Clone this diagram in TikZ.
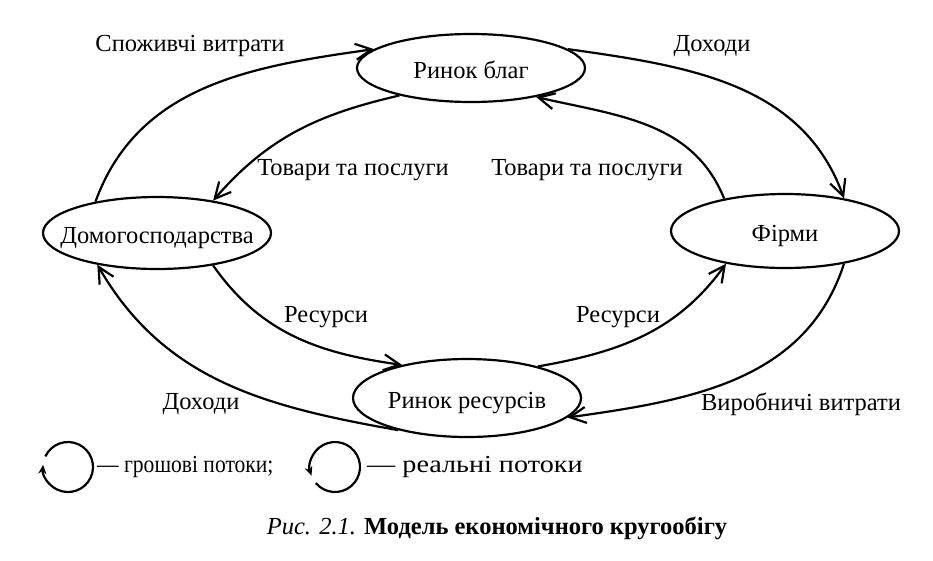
\documentclass[tikz,border=0pt]{standalone}
\usepackage{fontspec}
\setmainfont{Liberation Serif}
\usetikzlibrary{shapes.geometric,arrows.meta,positioning}

\begin{document}
\begin{tikzpicture}[x=1pt, y=1pt,
    market/.style={ellipse, draw, line width=2.2pt, minimum width=228pt, minimum height=72pt, inner sep=0pt, text height=20pt, text depth=0pt, font=\fontsize{24.5}{28}\selectfont},
    flow/.style={line width=2.2pt, -{Straight Barb[length=16pt, width=16pt]}},
    tag/.style={font=\fontsize{24.5}{28}\selectfont, inner sep=0pt}
]
\useasboundingbox (0,0) rectangle (933,-560);

% Markets and agents
\node[market, minimum height=68pt] (blag) at (471,-68) {\makebox[0pt]{Ринок благ}};
\node[market] (dom) at (157,-233) {\makebox[0pt]{Домогосподарства}};
\node[market, minimum height=74pt] (firms) at (785,-231) {\makebox[0pt]{Фірми}};
\node[market, minimum height=78pt] (res) at (467,-398) {\makebox[0pt]{Ринок ресурсів}};

% Labels
\node[tag] (spend) at (190,-46) {Споживчі витрати};
\node[tag] (incometop) at (712,-46) {Доходи};
\node[tag] (goodsleft) at (353,-170) {Товари та послуги};
\node[tag] (goodsright) at (587,-170) {Товари та послуги};
\node[tag] (resleft) at (326,-317) {Ресурси};
\node[tag] (resright) at (618,-317) {Ресурси};
\node[tag] (incomebot) at (201,-404) {Доходи};
\node[tag] (cost) at (801,-404) {Виробничі витрати};

% Money flows
\draw[flow] (dom.153) to[out=70, in=188] (blag.169);
\draw[flow] (blag.11) to[out=-8, in=110] (firms.29);
\draw[flow] (firms.331) to[out=252, in=8] (res.349);
\draw[flow] (res.205) to[out=170, in=-60] (dom.208);

% Real flows
\draw[flow] (blag.201) to[out=193, in=49] (dom.30);
\draw[flow] (firms.152) to[out=112, in=-13] (blag.336);
\draw[flow] (dom.330) to[out=-55, in=172] (res.153);
\draw[flow] (res.24) to[out=10, in=234] (firms.209);

% Legend
\coordinate (money) at (68,-467);
\coordinate (real) at (335,-467);
\draw[line width=2.2pt, -{Stealth[length=9pt, width=8pt]}] (money) ++(155:25) arc[start angle=155, end angle=-185, radius=25];
\draw[line width=2.2pt, -{Stealth[length=9pt, width=8pt]}] (real) ++(-140:25) arc[start angle=-140, end angle=200, radius=25];
\node[tag, right=29pt of money, xscale=0.88, transform shape] (moneytag) {— грошові потоки;};
\node[tag, right=32pt of real, xscale=1.15, transform shape] (realtag) {— реальні потоки};

% Caption
\node[tag] (caption) at (497,-528) {\textit{Рис. 2.1.} \textbf{Модель економічного кругообігу}};

\end{tikzpicture}
\end{document}
